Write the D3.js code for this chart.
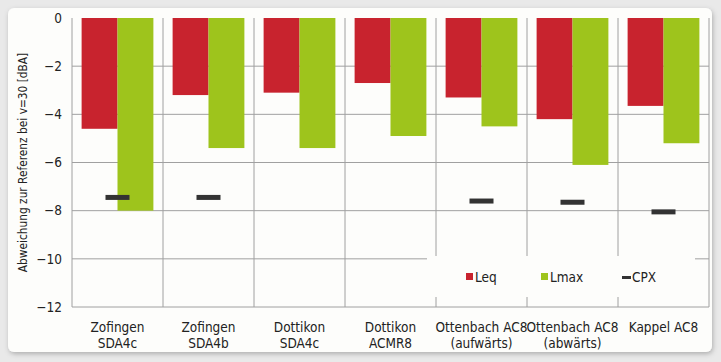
<!DOCTYPE html>
<html>
<head>
<meta charset="utf-8">
<script src="https://cdn.jsdelivr.net/npm/d3@7"></script>
<style>
  body { margin: 0; background: #e9e9e9; }
  svg { display: block; }
  text { font-family: "Liberation Sans Narrow", "DejaVu Sans Condensed", sans-serif; fill: #222; }
</style>
</head>
<body>
<div id="chart"></div>
<script>
// data
var categories = [
  ["Zofingen", "SDA4c"],
  ["Zofingen", "SDA4b"],
  ["Dottikon", "SDA4c"],
  ["Dottikon", "ACMR8"],
  ["Ottenbach AC8", "(aufwärts)"],
  ["Ottenbach AC8", "(abwärts)"],
  ["Kappel AC8"]
];
var leq  = [-4.6, -3.2, -3.1, -2.7, -3.3, -4.2, -3.65];
var lmax = [-8.0, -5.4, -5.4, -4.9, -4.5, -6.1, -5.2];
var cpx  = [-7.45, -7.45, null, null, -7.6, -7.65, -8.05];
var yTicks = [0, -2, -4, -6, -8, -10, -12];
var yLabel = "Abweichung zur Referenz bei v=30 [dBA]";

var colors = {Leq: "#c8232e", Lmax: "#9ec41c", CPX: "#333333"};

var W = 721, H = 362;
var margin = {top: 18, right: 12, bottom: 55, left: 72};

var svg = d3.select("#chart").append("svg")
  .attr("width", W).attr("height", H);

// card with shadow
var defs = svg.append("defs");
var f = defs.append("filter").attr("id", "sh").attr("x", "-5%").attr("y", "-5%")
  .attr("width", "110%").attr("height", "110%");
f.append("feDropShadow").attr("dx", 1).attr("dy", 2).attr("stdDeviation", 2.5)
  .attr("flood-color", "#000").attr("flood-opacity", 0.25);
svg.append("rect").attr("x", 8).attr("y", 8).attr("width", 704).attr("height", 344)
  .attr("rx", 6).attr("fill", "#fdfdfb").attr("filter", "url(#sh)");

var x0 = d3.scaleBand().domain(d3.range(categories.length))
  .range([margin.left, 709]);
var x1 = d3.scaleBand().domain(["Leq", "Lmax"])
  .range([1, x0.bandwidth() - 1]).paddingOuter(0.24).paddingInner(0);
var y = d3.scaleLinear().domain([0, -12]).range([margin.top, 307]);

var g = svg.append("g");

// grid
g.selectAll(".hgrid").data(yTicks.slice(1)).enter().append("line")
  .attr("x1", margin.left).attr("x2", 709)
  .attr("y1", d => y(d)).attr("y2", d => y(d))
  .attr("stroke", "#a0a0a0").attr("stroke-width", 1);
g.selectAll(".vgrid").data(d3.range(categories.length + 1)).enter().append("line")
  .attr("x1", d => d < categories.length ? x0(d) : 709)
  .attr("x2", d => d < categories.length ? x0(d) : 709)
  .attr("y1", y(0)).attr("y2", y(-12))
  .attr("stroke", "#a0a0a0").attr("stroke-width", 1);

// bars
var groups = g.selectAll(".grp").data(categories).enter().append("g")
  .attr("transform", (d, i) => "translate(" + x0(i) + ",0)");
groups.append("rect")
  .attr("x", x1("Leq")).attr("width", x1.bandwidth())
  .attr("y", y(0)).attr("height", (d, i) => y(leq[i]) - y(0))
  .attr("fill", colors.Leq);
groups.append("rect")
  .attr("x", x1("Lmax")).attr("width", x1.bandwidth())
  .attr("y", y(0)).attr("height", (d, i) => y(lmax[i]) - y(0))
  .attr("fill", colors.Lmax);

// CPX markers
g.selectAll(".cpx").data(cpx.map((v, i) => ({v: v, i: i})).filter(d => d.v !== null))
  .enter().append("rect")
  .attr("x", d => x0(d.i) + x0.bandwidth() / 2 - 12)
  .attr("width", 24)
  .attr("y", d => y(d.v) - 2.5).attr("height", 5)
  .attr("fill", colors.CPX);

// legend box
var lg = svg.append("g");
lg.append("rect").attr("x", 427).attr("y", 256).attr("width", 268).attr("height", 41)
  .attr("fill", "#fdfdfb");
var legendItems = [
  {name: "Leq", x: 466, type: "sq"},
  {name: "Lmax", x: 541, type: "sq"},
  {name: "CPX", x: 622, type: "dash"}
];
legendItems.forEach(function(it) {
  if (it.type === "sq") {
    lg.append("rect").attr("x", it.x).attr("y", 273).attr("width", 7).attr("height", 7)
      .attr("fill", colors[it.name]);
    lg.append("text").attr("x", it.x + 9).attr("y", 282).attr("font-size", 13.5).text(it.name);
  } else {
    lg.append("rect").attr("x", it.x).attr("y", 276).attr("width", 9).attr("height", 3)
      .attr("fill", colors.CPX);
    lg.append("text").attr("x", it.x + 10).attr("y", 282).attr("font-size", 13.5).text(it.name);
  }
});

// y axis ticks
var yAxis = d3.axisLeft(y).tickValues(yTicks).tickSize(0).tickPadding(10);
var ya = svg.append("g").attr("transform", "translate(" + margin.left + ",0)").call(yAxis);
ya.select(".domain").remove();
ya.selectAll("text").attr("font-size", 13.5)
  .style("font-family", '"Liberation Sans Narrow", "DejaVu Sans Condensed", sans-serif')
  .attr("fill", "#222");

// y label
svg.append("text")
  .attr("transform", "translate(27," + y(-6) + ") rotate(-90)")
  .attr("text-anchor", "middle").attr("font-size", 11.8)
  .text(yLabel);

// x labels
var xl = svg.append("g");
categories.forEach(function(lines, i) {
  var t = xl.append("text").attr("text-anchor", "middle")
    .attr("x", x0(i) + x0.bandwidth() / 2).attr("y", 332).attr("font-size", 13.5);
  lines.forEach(function(s, j) {
    t.append("tspan").attr("x", x0(i) + x0.bandwidth() / 2)
      .attr("dy", j === 0 ? 0 : 15.5).text(s);
  });
});
</script>
</body>
</html>
